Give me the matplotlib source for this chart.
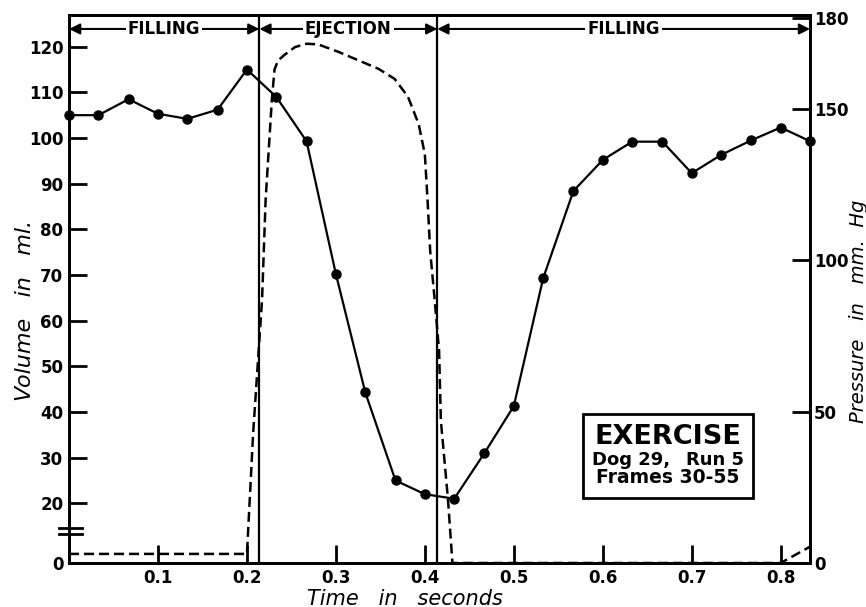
import matplotlib
matplotlib.use("Agg")
import matplotlib.pyplot as plt
from matplotlib.patches import Rectangle

# volume samples, one per film frame (frames 30-55)
time_s = [0.000, 0.033, 0.067, 0.100, 0.133, 0.167, 0.200, 0.233, 0.267, 0.300,
          0.333, 0.367, 0.400, 0.433, 0.467, 0.500, 0.533, 0.567, 0.600, 0.633,
          0.667, 0.700, 0.733, 0.767, 0.800, 0.833]
volume_ml = [105, 105, 108.5, 105.3, 104.2, 106.2, 115, 109, 99.3, 70.2,
             44.3, 25, 22, 21, 31, 41.3, 69.3, 88.4, 95.2, 99.2,
             99.2, 92.3, 96.3, 99.5, 102.3, 99.3]

# pressure trace (dashed)
p_time = [0.000, 0.200, 0.207, 0.217, 0.221, 0.228, 0.231, 0.235, 0.243, 0.254,
          0.267, 0.280, 0.303, 0.348, 0.366, 0.381, 0.393, 0.400, 0.403, 0.406,
          0.411, 0.416, 0.418, 0.426, 0.431, 0.800, 0.833]
p_mmhg = [3.0, 3.0, 43, 87, 120, 153, 163, 166, 168, 170.4,
          171.5, 171.3, 168.8, 163.2, 159.9, 154, 145, 135, 120, 103,
          87, 70, 47, 21, 0, 0, 5.4]

# phase boundaries
phase_edges = [0.0, 0.214, 0.414, 0.833]
phase_names = ["FILLING", "EJECTION", "FILLING"]

x_ticks = [0.1, 0.2, 0.3, 0.4, 0.5, 0.6, 0.7, 0.8]
vol_ticks = [20, 30, 40, 50, 60, 70, 80, 90, 100, 110, 120]
p_ticks = [0, 50, 100, 150, 180]

# left axis is broken below 20: bottom edge stands for "0"
vol_lo, vol_hi = 6.93, 126.94

fig = plt.figure(figsize=(8.66, 6.07), dpi=100)
ax = fig.add_axes([0.0797, 0.0725, 0.8557, 0.9028])
ax2 = ax.twinx()

bold = dict(fontweight="bold", fontsize=12)

ax.plot(time_s, volume_ml, color="black", lw=1.6, marker="o", markersize=6.5,
        clip_on=False, zorder=5)
ax2.plot(p_time, p_mmhg, color="black", lw=1.8, linestyle=(0, (4, 2)), clip_on=False)

for xe in phase_edges[1:-1]:
    ax.axvline(xe, color="black", lw=1.6)

ax.set_xlim(0, 0.833)
ax.set_ylim(vol_lo, vol_hi)
ax2.set_ylim(0, 181)

ax.set_xticks(x_ticks)
ax.set_xticklabels([f"{v:.1f}" for v in x_ticks], **bold)
ax.set_yticks([vol_lo] + vol_ticks)
ax.set_yticklabels(["0"] + [str(v) for v in vol_ticks], **bold)
ax2.set_yticks(p_ticks)
ax2.set_yticklabels([str(v) for v in p_ticks], **bold)

ax.tick_params(axis="both", direction="in", length=13, width=2, pad=4)
ax.tick_params(axis="x", pad=4)
ax2.tick_params(axis="y", direction="in", length=13, width=2, pad=3)

for a in (ax, ax2):
    for s in a.spines.values():
        s.set_linewidth(2)

ax.set_xlabel("Time   in   seconds", fontsize=15, style="italic")
ax.xaxis.set_label_coords(0.453, -0.047)
ax.set_ylabel("Volume   in   ml.", fontsize=16, style="italic")
ax.yaxis.set_label_coords(-0.046, 0.46)
ax2.set_ylabel("Pressure   in   mm.  Hg", fontsize=14, style="italic")
ax2.yaxis.set_label_coords(1.052, 0.46)

# phase arrows along the top
trans = ax.get_xaxis_transform()
for i, name in enumerate(phase_names):
    x0, x1 = phase_edges[i], phase_edges[i + 1]
    ax.annotate("", xy=(x1, 0.9745), xytext=(x0, 0.9745), xycoords=trans,
                arrowprops=dict(arrowstyle="<|-|>", color="black", lw=1.5,
                                mutation_scale=16, shrinkA=0, shrinkB=0))
    ax.text((x0 + x1) / 2, 0.9745, name, transform=trans, ha="center", va="center",
            fontweight="bold", fontsize=12,
            bbox=dict(facecolor="white", edgecolor="none", pad=1.5))

# axis break marks on the left spine
ax.add_patch(Rectangle((-0.01, 0.053), 0.02, 0.0115, transform=ax.transAxes,
                       facecolor="white", edgecolor="none", clip_on=False, zorder=6))
for yb in (0.0529, 0.0644):
    ax.plot([-0.0135, 0.0175], [yb, yb], transform=ax.transAxes, color="black",
            lw=2, clip_on=False, zorder=7)

# info box
ax.add_patch(Rectangle((0.694, 0.119), 0.229, 0.153, transform=ax.transAxes,
                       facecolor="white", edgecolor="black", lw=2, zorder=8))
ax.text(0.8085, 0.2299, "EXERCISE", transform=ax.transAxes, ha="center", va="center",
        fontweight="bold", fontsize=19.5, zorder=9)
ax.text(0.706, 0.1876, "Dog 29,", transform=ax.transAxes, ha="left", va="center",
        fontweight="bold", fontsize=13, zorder=9)
ax.text(0.911, 0.1876, "Run 5", transform=ax.transAxes, ha="right", va="center",
        fontweight="bold", fontsize=13, zorder=9)
ax.text(0.8085, 0.1566, "Frames 30-55", transform=ax.transAxes, ha="center", va="center",
        fontweight="bold", fontsize=13.5, zorder=9)

fig.savefig("out.png", dpi=100)
